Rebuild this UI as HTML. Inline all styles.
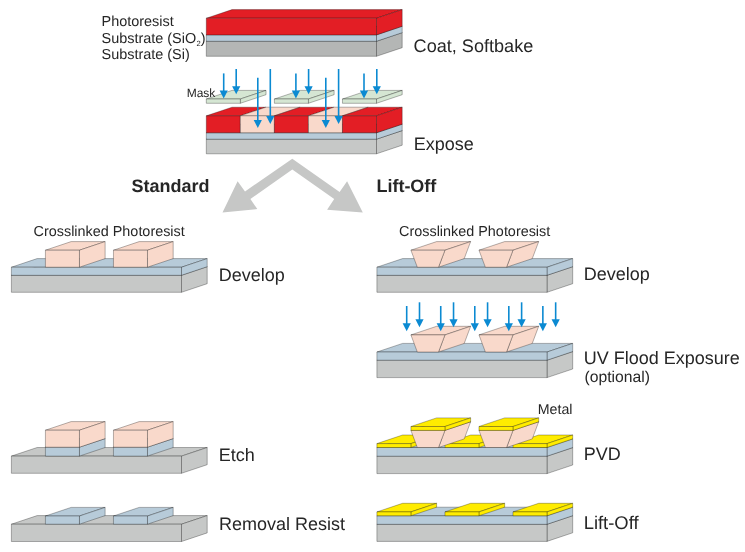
<!DOCTYPE html>
<html><head><meta charset="utf-8"><style>
html,body{margin:0;padding:0;background:#fff;}
svg{display:block;will-change:transform;}
text{font-family:"Liberation Sans", sans-serif;fill:#262626;text-rendering:geometricPrecision;}
</style></head><body>
<svg width="745" height="552" viewBox="0 0 745 552">
<rect width="745" height="552" fill="#fff"/>
<polygon points="206.3,41.25 232,32.65 402.2,32.65 376.5,41.25" fill="#B4B6B5" stroke="rgba(0,0,0,0.42)" stroke-width="0.7" stroke-linejoin="round" />
<polygon points="376.5,41.25 402.2,32.65 402.2,47.7 376.5,56.3" fill="#B4B6B5" stroke="rgba(0,0,0,0.42)" stroke-width="0.7" stroke-linejoin="round" />
<polygon points="206.3,41.25 376.5,41.25 376.5,56.3 206.3,56.3" fill="#B4B6B5" stroke="rgba(0,0,0,0.42)" stroke-width="0.7" stroke-linejoin="round" />
<polygon points="206.3,34.9 232,26.3 402.2,26.3 376.5,34.9" fill="#B7CBD9" stroke="rgba(0,0,0,0.42)" stroke-width="0.7" stroke-linejoin="round" />
<polygon points="376.5,34.9 402.2,26.3 402.2,32.65 376.5,41.25" fill="#B7CBD9" stroke="rgba(0,0,0,0.42)" stroke-width="0.7" stroke-linejoin="round" />
<polygon points="206.3,34.9 376.5,34.9 376.5,41.25 206.3,41.25" fill="#B7CBD9" stroke="rgba(0,0,0,0.42)" stroke-width="0.7" stroke-linejoin="round" />
<polygon points="206.3,18.2 232,9.6 402.2,9.6 376.5,18.2" fill="#E31E25" stroke="rgba(0,0,0,0.42)" stroke-width="0.7" stroke-linejoin="round" />
<polygon points="376.5,18.2 402.2,9.6 402.2,26.3 376.5,34.9" fill="#E31E25" stroke="rgba(0,0,0,0.42)" stroke-width="0.7" stroke-linejoin="round" />
<polygon points="206.3,18.2 376.5,18.2 376.5,34.9 206.3,34.9" fill="#E31E25" stroke="rgba(0,0,0,0.42)" stroke-width="0.7" stroke-linejoin="round" />
<polygon points="206.3,139.2 232,130.6 402.2,130.6 376.5,139.2" fill="#C6C8C7" stroke="rgba(0,0,0,0.42)" stroke-width="0.7" stroke-linejoin="round" />
<polygon points="376.5,139.2 402.2,130.6 402.2,145.2 376.5,153.8" fill="#C6C8C7" stroke="rgba(0,0,0,0.42)" stroke-width="0.7" stroke-linejoin="round" />
<polygon points="206.3,139.2 376.5,139.2 376.5,153.8 206.3,153.8" fill="#C6C8C7" stroke="rgba(0,0,0,0.42)" stroke-width="0.7" stroke-linejoin="round" />
<polygon points="206.3,132.8 232,124.2 402.2,124.2 376.5,132.8" fill="#B7CBD9" stroke="rgba(0,0,0,0.42)" stroke-width="0.7" stroke-linejoin="round" />
<polygon points="376.5,132.8 402.2,124.2 402.2,130.6 376.5,139.2" fill="#B7CBD9" stroke="rgba(0,0,0,0.42)" stroke-width="0.7" stroke-linejoin="round" />
<polygon points="206.3,132.8 376.5,132.8 376.5,139.2 206.3,139.2" fill="#B7CBD9" stroke="rgba(0,0,0,0.42)" stroke-width="0.7" stroke-linejoin="round" />
<polygon points="206.3,115.8 232,107.2 266.04,107.2 240.34,115.8" fill="#E31E25" stroke="rgba(0,0,0,0.42)" stroke-width="0.7" stroke-linejoin="round" />
<polygon points="206.3,115.8 240.34,115.8 240.34,132.8 206.3,132.8" fill="#E31E25" stroke="rgba(0,0,0,0.42)" stroke-width="0.7" stroke-linejoin="round" />
<polygon points="240.34,115.8 266.04,107.2 300.08,107.2 274.38,115.8" fill="#F9D9CB" stroke="rgba(0,0,0,0.42)" stroke-width="0.7" stroke-linejoin="round" />
<polygon points="240.34,115.8 274.38,115.8 274.38,132.8 240.34,132.8" fill="#F9D9CB" stroke="rgba(0,0,0,0.42)" stroke-width="0.7" stroke-linejoin="round" />
<polygon points="274.38,115.8 300.08,107.2 334.12,107.2 308.42,115.8" fill="#E31E25" stroke="rgba(0,0,0,0.42)" stroke-width="0.7" stroke-linejoin="round" />
<polygon points="274.38,115.8 308.42,115.8 308.42,132.8 274.38,132.8" fill="#E31E25" stroke="rgba(0,0,0,0.42)" stroke-width="0.7" stroke-linejoin="round" />
<polygon points="308.42,115.8 334.12,107.2 368.16,107.2 342.46,115.8" fill="#F9D9CB" stroke="rgba(0,0,0,0.42)" stroke-width="0.7" stroke-linejoin="round" />
<polygon points="308.42,115.8 342.46,115.8 342.46,132.8 308.42,132.8" fill="#F9D9CB" stroke="rgba(0,0,0,0.42)" stroke-width="0.7" stroke-linejoin="round" />
<polygon points="342.46,115.8 368.16,107.2 402.2,107.2 376.5,115.8" fill="#E31E25" stroke="rgba(0,0,0,0.42)" stroke-width="0.7" stroke-linejoin="round" />
<polygon points="376.5,115.8 402.2,107.2 402.2,124.2 376.5,132.8" fill="#E31E25" stroke="rgba(0,0,0,0.42)" stroke-width="0.7" stroke-linejoin="round" />
<polygon points="342.46,115.8 376.5,115.8 376.5,132.8 342.46,132.8" fill="#E31E25" stroke="rgba(0,0,0,0.42)" stroke-width="0.7" stroke-linejoin="round" />
<polygon points="206.3,99 232,90.4 266.04,90.4 240.34,99" fill="#D5E6D3" stroke="rgba(0,0,0,0.42)" stroke-width="0.7" stroke-linejoin="round" />
<polygon points="240.34,99 266.04,90.4 266.04,94.7 240.34,103.3" fill="#D5E6D3" stroke="rgba(0,0,0,0.42)" stroke-width="0.7" stroke-linejoin="round" />
<polygon points="206.3,99 240.34,99 240.34,103.3 206.3,103.3" fill="#D5E6D3" stroke="rgba(0,0,0,0.42)" stroke-width="0.7" stroke-linejoin="round" />
<polygon points="274.38,99 300.08,90.4 334.12,90.4 308.42,99" fill="#D5E6D3" stroke="rgba(0,0,0,0.42)" stroke-width="0.7" stroke-linejoin="round" />
<polygon points="308.42,99 334.12,90.4 334.12,94.7 308.42,103.3" fill="#D5E6D3" stroke="rgba(0,0,0,0.42)" stroke-width="0.7" stroke-linejoin="round" />
<polygon points="274.38,99 308.42,99 308.42,103.3 274.38,103.3" fill="#D5E6D3" stroke="rgba(0,0,0,0.42)" stroke-width="0.7" stroke-linejoin="round" />
<polygon points="342.46,99 368.16,90.4 402.2,90.4 376.5,99" fill="#D5E6D3" stroke="rgba(0,0,0,0.42)" stroke-width="0.7" stroke-linejoin="round" />
<polygon points="376.5,99 402.2,90.4 402.2,94.7 376.5,103.3" fill="#D5E6D3" stroke="rgba(0,0,0,0.42)" stroke-width="0.7" stroke-linejoin="round" />
<polygon points="342.46,99 376.5,99 376.5,103.3 342.46,103.3" fill="#D5E6D3" stroke="rgba(0,0,0,0.42)" stroke-width="0.7" stroke-linejoin="round" />
<line x1="223.7" y1="73.4" x2="223.7" y2="91.5" stroke="#0B8AD2" stroke-width="1.6"/>
<polygon points="219.6,90.5 227.8,90.5 223.7,98.5" fill="#0B8AD2"/>
<line x1="236.2" y1="69" x2="236.2" y2="87.2" stroke="#0B8AD2" stroke-width="1.6"/>
<polygon points="232.1,86.2 240.3,86.2 236.2,94.2" fill="#0B8AD2"/>
<line x1="257.8" y1="77.8" x2="257.8" y2="120.9" stroke="#0B8AD2" stroke-width="1.6"/>
<polygon points="253.7,119.9 261.9,119.9 257.8,127.9" fill="#0B8AD2"/>
<line x1="270.3" y1="69" x2="270.3" y2="116.9" stroke="#0B8AD2" stroke-width="1.6"/>
<polygon points="266.2,115.9 274.4,115.9 270.3,123.9" fill="#0B8AD2"/>
<line x1="295.9" y1="73.4" x2="295.9" y2="91.5" stroke="#0B8AD2" stroke-width="1.6"/>
<polygon points="291.8,90.5 300,90.5 295.9,98.5" fill="#0B8AD2"/>
<line x1="308.6" y1="69" x2="308.6" y2="87.2" stroke="#0B8AD2" stroke-width="1.6"/>
<polygon points="304.5,86.2 312.7,86.2 308.6,94.2" fill="#0B8AD2"/>
<line x1="325.8" y1="77.8" x2="325.8" y2="120.9" stroke="#0B8AD2" stroke-width="1.6"/>
<polygon points="321.7,119.9 329.9,119.9 325.8,127.9" fill="#0B8AD2"/>
<line x1="338.6" y1="69" x2="338.6" y2="116.9" stroke="#0B8AD2" stroke-width="1.6"/>
<polygon points="334.5,115.9 342.7,115.9 338.6,123.9" fill="#0B8AD2"/>
<line x1="364" y1="73.4" x2="364" y2="91.5" stroke="#0B8AD2" stroke-width="1.6"/>
<polygon points="359.9,90.5 368.1,90.5 364,98.5" fill="#0B8AD2"/>
<line x1="376.8" y1="69" x2="376.8" y2="87.2" stroke="#0B8AD2" stroke-width="1.6"/>
<polygon points="372.7,86.2 380.9,86.2 376.8,94.2" fill="#0B8AD2"/>
<polygon points="292.3,158.7 339.6,192 347.1,181.2 362.8,212.6 327.1,209.8 334.2,199 292.3,169.6 250.4,199 257.3,209.1 222.5,212.6 237.6,181.2 245,191.5" fill="#C6C7C6" stroke="none" stroke-width="0" stroke-linejoin="round" />
<polygon points="11.4,275.3 37.1,266.7 207.2,266.7 181.5,275.3" fill="#C6C8C7" stroke="rgba(0,0,0,0.42)" stroke-width="0.7" stroke-linejoin="round" />
<polygon points="181.5,275.3 207.2,266.7 207.2,283.7 181.5,292.3" fill="#C6C8C7" stroke="rgba(0,0,0,0.42)" stroke-width="0.7" stroke-linejoin="round" />
<polygon points="11.4,275.3 181.5,275.3 181.5,292.3 11.4,292.3" fill="#C6C8C7" stroke="rgba(0,0,0,0.42)" stroke-width="0.7" stroke-linejoin="round" />
<polygon points="11.4,267.2 37.1,258.6 207.2,258.6 181.5,267.2" fill="#B7CBD9" stroke="rgba(0,0,0,0.42)" stroke-width="0.7" stroke-linejoin="round" />
<polygon points="181.5,267.2 207.2,258.6 207.2,266.7 181.5,275.3" fill="#B7CBD9" stroke="rgba(0,0,0,0.42)" stroke-width="0.7" stroke-linejoin="round" />
<polygon points="11.4,267.2 181.5,267.2 181.5,275.3 11.4,275.3" fill="#B7CBD9" stroke="rgba(0,0,0,0.42)" stroke-width="0.7" stroke-linejoin="round" />
<polygon points="45.42,250.2 71.12,241.6 105.14,241.6 79.44,250.2" fill="#F9D9CB" stroke="rgba(0,0,0,0.42)" stroke-width="0.7" stroke-linejoin="round" />
<polygon points="79.44,250.2 105.14,241.6 105.14,258.6 79.44,267.2" fill="#F9D9CB" stroke="rgba(0,0,0,0.42)" stroke-width="0.7" stroke-linejoin="round" />
<polygon points="45.42,250.2 79.44,250.2 79.44,267.2 45.42,267.2" fill="#F9D9CB" stroke="rgba(0,0,0,0.42)" stroke-width="0.7" stroke-linejoin="round" />
<polygon points="113.46,250.2 139.16,241.6 173.18,241.6 147.48,250.2" fill="#F9D9CB" stroke="rgba(0,0,0,0.42)" stroke-width="0.7" stroke-linejoin="round" />
<polygon points="147.48,250.2 173.18,241.6 173.18,258.6 147.48,267.2" fill="#F9D9CB" stroke="rgba(0,0,0,0.42)" stroke-width="0.7" stroke-linejoin="round" />
<polygon points="113.46,250.2 147.48,250.2 147.48,267.2 113.46,267.2" fill="#F9D9CB" stroke="rgba(0,0,0,0.42)" stroke-width="0.7" stroke-linejoin="round" />
<polygon points="11.4,456.1 37.1,447.5 207.2,447.5 181.5,456.1" fill="#C6C8C7" stroke="rgba(0,0,0,0.42)" stroke-width="0.7" stroke-linejoin="round" />
<polygon points="181.5,456.1 207.2,447.5 207.2,464.7 181.5,473.3" fill="#C6C8C7" stroke="rgba(0,0,0,0.42)" stroke-width="0.7" stroke-linejoin="round" />
<polygon points="11.4,456.1 181.5,456.1 181.5,473.3 11.4,473.3" fill="#C6C8C7" stroke="rgba(0,0,0,0.42)" stroke-width="0.7" stroke-linejoin="round" />
<polygon points="45.42,447.2 71.12,438.6 105.14,438.6 79.44,447.2" fill="#B7CBD9" stroke="rgba(0,0,0,0.42)" stroke-width="0.7" stroke-linejoin="round" />
<polygon points="79.44,447.2 105.14,438.6 105.14,447.5 79.44,456.1" fill="#B7CBD9" stroke="rgba(0,0,0,0.42)" stroke-width="0.7" stroke-linejoin="round" />
<polygon points="45.42,447.2 79.44,447.2 79.44,456.1 45.42,456.1" fill="#B7CBD9" stroke="rgba(0,0,0,0.42)" stroke-width="0.7" stroke-linejoin="round" />
<polygon points="45.42,430.2 71.12,421.6 105.14,421.6 79.44,430.2" fill="#F9D9CB" stroke="rgba(0,0,0,0.42)" stroke-width="0.7" stroke-linejoin="round" />
<polygon points="79.44,430.2 105.14,421.6 105.14,438.6 79.44,447.2" fill="#F9D9CB" stroke="rgba(0,0,0,0.42)" stroke-width="0.7" stroke-linejoin="round" />
<polygon points="45.42,430.2 79.44,430.2 79.44,447.2 45.42,447.2" fill="#F9D9CB" stroke="rgba(0,0,0,0.42)" stroke-width="0.7" stroke-linejoin="round" />
<polygon points="113.46,447.2 139.16,438.6 173.18,438.6 147.48,447.2" fill="#B7CBD9" stroke="rgba(0,0,0,0.42)" stroke-width="0.7" stroke-linejoin="round" />
<polygon points="147.48,447.2 173.18,438.6 173.18,447.5 147.48,456.1" fill="#B7CBD9" stroke="rgba(0,0,0,0.42)" stroke-width="0.7" stroke-linejoin="round" />
<polygon points="113.46,447.2 147.48,447.2 147.48,456.1 113.46,456.1" fill="#B7CBD9" stroke="rgba(0,0,0,0.42)" stroke-width="0.7" stroke-linejoin="round" />
<polygon points="113.46,430.2 139.16,421.6 173.18,421.6 147.48,430.2" fill="#F9D9CB" stroke="rgba(0,0,0,0.42)" stroke-width="0.7" stroke-linejoin="round" />
<polygon points="147.48,430.2 173.18,421.6 173.18,438.6 147.48,447.2" fill="#F9D9CB" stroke="rgba(0,0,0,0.42)" stroke-width="0.7" stroke-linejoin="round" />
<polygon points="113.46,430.2 147.48,430.2 147.48,447.2 113.46,447.2" fill="#F9D9CB" stroke="rgba(0,0,0,0.42)" stroke-width="0.7" stroke-linejoin="round" />
<polygon points="11.4,524.2 37.1,515.6 207.2,515.6 181.5,524.2" fill="#C6C8C7" stroke="rgba(0,0,0,0.42)" stroke-width="0.7" stroke-linejoin="round" />
<polygon points="181.5,524.2 207.2,515.6 207.2,532.9 181.5,541.5" fill="#C6C8C7" stroke="rgba(0,0,0,0.42)" stroke-width="0.7" stroke-linejoin="round" />
<polygon points="11.4,524.2 181.5,524.2 181.5,541.5 11.4,541.5" fill="#C6C8C7" stroke="rgba(0,0,0,0.42)" stroke-width="0.7" stroke-linejoin="round" />
<polygon points="45.42,516 71.12,507.4 105.14,507.4 79.44,516" fill="#B7CBD9" stroke="rgba(0,0,0,0.42)" stroke-width="0.7" stroke-linejoin="round" />
<polygon points="79.44,516 105.14,507.4 105.14,515.6 79.44,524.2" fill="#B7CBD9" stroke="rgba(0,0,0,0.42)" stroke-width="0.7" stroke-linejoin="round" />
<polygon points="45.42,516 79.44,516 79.44,524.2 45.42,524.2" fill="#B7CBD9" stroke="rgba(0,0,0,0.42)" stroke-width="0.7" stroke-linejoin="round" />
<polygon points="113.46,516 139.16,507.4 173.18,507.4 147.48,516" fill="#B7CBD9" stroke="rgba(0,0,0,0.42)" stroke-width="0.7" stroke-linejoin="round" />
<polygon points="147.48,516 173.18,507.4 173.18,515.6 147.48,524.2" fill="#B7CBD9" stroke="rgba(0,0,0,0.42)" stroke-width="0.7" stroke-linejoin="round" />
<polygon points="113.46,516 147.48,516 147.48,524.2 113.46,524.2" fill="#B7CBD9" stroke="rgba(0,0,0,0.42)" stroke-width="0.7" stroke-linejoin="round" />
<polygon points="376.9,275.3 402.6,266.7 572.7,266.7 547,275.3" fill="#C6C8C7" stroke="rgba(0,0,0,0.42)" stroke-width="0.7" stroke-linejoin="round" />
<polygon points="547,275.3 572.7,266.7 572.7,283.7 547,292.3" fill="#C6C8C7" stroke="rgba(0,0,0,0.42)" stroke-width="0.7" stroke-linejoin="round" />
<polygon points="376.9,275.3 547,275.3 547,292.3 376.9,292.3" fill="#C6C8C7" stroke="rgba(0,0,0,0.42)" stroke-width="0.7" stroke-linejoin="round" />
<polygon points="376.9,267.2 402.6,258.6 572.7,258.6 547,267.2" fill="#B7CBD9" stroke="rgba(0,0,0,0.42)" stroke-width="0.7" stroke-linejoin="round" />
<polygon points="547,267.2 572.7,258.6 572.7,266.7 547,275.3" fill="#B7CBD9" stroke="rgba(0,0,0,0.42)" stroke-width="0.7" stroke-linejoin="round" />
<polygon points="376.9,267.2 547,267.2 547,275.3 376.9,275.3" fill="#B7CBD9" stroke="rgba(0,0,0,0.42)" stroke-width="0.7" stroke-linejoin="round" />
<polygon points="410.92,250.2 436.62,241.6 470.64,241.6 444.94,250.2" fill="#F9D9CB" stroke="rgba(0,0,0,0.42)" stroke-width="0.7" stroke-linejoin="round" />
<polygon points="444.94,250.2 470.64,241.6 464.24,258.6 438.54,267.2" fill="#F9D9CB" stroke="rgba(0,0,0,0.42)" stroke-width="0.7" stroke-linejoin="round" />
<polygon points="410.92,250.2 444.94,250.2 438.54,267.2 417.32,267.2" fill="#F9D9CB" stroke="rgba(0,0,0,0.42)" stroke-width="0.7" stroke-linejoin="round" />
<polygon points="478.96,250.2 504.66,241.6 538.68,241.6 512.98,250.2" fill="#F9D9CB" stroke="rgba(0,0,0,0.42)" stroke-width="0.7" stroke-linejoin="round" />
<polygon points="512.98,250.2 538.68,241.6 532.28,258.6 506.58,267.2" fill="#F9D9CB" stroke="rgba(0,0,0,0.42)" stroke-width="0.7" stroke-linejoin="round" />
<polygon points="478.96,250.2 512.98,250.2 506.58,267.2 485.36,267.2" fill="#F9D9CB" stroke="rgba(0,0,0,0.42)" stroke-width="0.7" stroke-linejoin="round" />
<polygon points="376.9,360.2 402.6,351.6 572.7,351.6 547,360.2" fill="#C6C8C7" stroke="rgba(0,0,0,0.42)" stroke-width="0.7" stroke-linejoin="round" />
<polygon points="547,360.2 572.7,351.6 572.7,369 547,377.6" fill="#C6C8C7" stroke="rgba(0,0,0,0.42)" stroke-width="0.7" stroke-linejoin="round" />
<polygon points="376.9,360.2 547,360.2 547,377.6 376.9,377.6" fill="#C6C8C7" stroke="rgba(0,0,0,0.42)" stroke-width="0.7" stroke-linejoin="round" />
<polygon points="376.9,352 402.6,343.4 572.7,343.4 547,352" fill="#B7CBD9" stroke="rgba(0,0,0,0.42)" stroke-width="0.7" stroke-linejoin="round" />
<polygon points="547,352 572.7,343.4 572.7,351.6 547,360.2" fill="#B7CBD9" stroke="rgba(0,0,0,0.42)" stroke-width="0.7" stroke-linejoin="round" />
<polygon points="376.9,352 547,352 547,360.2 376.9,360.2" fill="#B7CBD9" stroke="rgba(0,0,0,0.42)" stroke-width="0.7" stroke-linejoin="round" />
<polygon points="410.92,334.9 436.62,326.3 470.64,326.3 444.94,334.9" fill="#F9D9CB" stroke="rgba(0,0,0,0.42)" stroke-width="0.7" stroke-linejoin="round" />
<polygon points="444.94,334.9 470.64,326.3 464.24,343.4 438.54,352" fill="#F9D9CB" stroke="rgba(0,0,0,0.42)" stroke-width="0.7" stroke-linejoin="round" />
<polygon points="410.92,334.9 444.94,334.9 438.54,352 417.32,352" fill="#F9D9CB" stroke="rgba(0,0,0,0.42)" stroke-width="0.7" stroke-linejoin="round" />
<polygon points="478.96,334.9 504.66,326.3 538.68,326.3 512.98,334.9" fill="#F9D9CB" stroke="rgba(0,0,0,0.42)" stroke-width="0.7" stroke-linejoin="round" />
<polygon points="512.98,334.9 538.68,326.3 532.28,343.4 506.58,352" fill="#F9D9CB" stroke="rgba(0,0,0,0.42)" stroke-width="0.7" stroke-linejoin="round" />
<polygon points="478.96,334.9 512.98,334.9 506.58,352 485.36,352" fill="#F9D9CB" stroke="rgba(0,0,0,0.42)" stroke-width="0.7" stroke-linejoin="round" />
<line x1="406.7" y1="306" x2="406.7" y2="324.2" stroke="#0B8AD2" stroke-width="1.6"/>
<polygon points="402.6,323.2 410.8,323.2 406.7,331.2" fill="#0B8AD2"/>
<line x1="419.5" y1="302.3" x2="419.5" y2="320.3" stroke="#0B8AD2" stroke-width="1.6"/>
<polygon points="415.4,319.3 423.6,319.3 419.5,327.3" fill="#0B8AD2"/>
<line x1="440.74" y1="306" x2="440.74" y2="324.2" stroke="#0B8AD2" stroke-width="1.6"/>
<polygon points="436.64,323.2 444.84,323.2 440.74,331.2" fill="#0B8AD2"/>
<line x1="453.54" y1="302.3" x2="453.54" y2="320.3" stroke="#0B8AD2" stroke-width="1.6"/>
<polygon points="449.44,319.3 457.64,319.3 453.54,327.3" fill="#0B8AD2"/>
<line x1="474.78" y1="306" x2="474.78" y2="324.2" stroke="#0B8AD2" stroke-width="1.6"/>
<polygon points="470.68,323.2 478.88,323.2 474.78,331.2" fill="#0B8AD2"/>
<line x1="487.58" y1="302.3" x2="487.58" y2="320.3" stroke="#0B8AD2" stroke-width="1.6"/>
<polygon points="483.48,319.3 491.68,319.3 487.58,327.3" fill="#0B8AD2"/>
<line x1="508.82" y1="306" x2="508.82" y2="324.2" stroke="#0B8AD2" stroke-width="1.6"/>
<polygon points="504.72,323.2 512.92,323.2 508.82,331.2" fill="#0B8AD2"/>
<line x1="521.62" y1="302.3" x2="521.62" y2="320.3" stroke="#0B8AD2" stroke-width="1.6"/>
<polygon points="517.52,319.3 525.72,319.3 521.62,327.3" fill="#0B8AD2"/>
<line x1="542.86" y1="306" x2="542.86" y2="324.2" stroke="#0B8AD2" stroke-width="1.6"/>
<polygon points="538.76,323.2 546.96,323.2 542.86,331.2" fill="#0B8AD2"/>
<line x1="555.66" y1="302.3" x2="555.66" y2="320.3" stroke="#0B8AD2" stroke-width="1.6"/>
<polygon points="551.56,319.3 559.76,319.3 555.66,327.3" fill="#0B8AD2"/>
<polygon points="376.9,456.2 402.6,447.6 572.7,447.6 547,456.2" fill="#C6C8C7" stroke="rgba(0,0,0,0.42)" stroke-width="0.7" stroke-linejoin="round" />
<polygon points="547,456.2 572.7,447.6 572.7,465 547,473.6" fill="#C6C8C7" stroke="rgba(0,0,0,0.42)" stroke-width="0.7" stroke-linejoin="round" />
<polygon points="376.9,456.2 547,456.2 547,473.6 376.9,473.6" fill="#C6C8C7" stroke="rgba(0,0,0,0.42)" stroke-width="0.7" stroke-linejoin="round" />
<polygon points="376.9,447.5 402.6,438.9 572.7,438.9 547,447.5" fill="#B7CBD9" stroke="rgba(0,0,0,0.42)" stroke-width="0.7" stroke-linejoin="round" />
<polygon points="547,447.5 572.7,438.9 572.7,447.6 547,456.2" fill="#B7CBD9" stroke="rgba(0,0,0,0.42)" stroke-width="0.7" stroke-linejoin="round" />
<polygon points="376.9,447.5 547,447.5 547,456.2 376.9,456.2" fill="#B7CBD9" stroke="rgba(0,0,0,0.42)" stroke-width="0.7" stroke-linejoin="round" />
<polygon points="376.9,443.6 402.6,435 436.62,435 410.92,443.6" fill="#FFEC00" stroke="rgba(0,0,0,0.42)" stroke-width="0.7" stroke-linejoin="round" />
<polygon points="410.92,443.6 436.62,435 436.62,438.9 410.92,447.5" fill="#FFEC00" stroke="rgba(0,0,0,0.42)" stroke-width="0.7" stroke-linejoin="round" />
<polygon points="376.9,443.6 410.92,443.6 410.92,447.5 376.9,447.5" fill="#FFEC00" stroke="rgba(0,0,0,0.42)" stroke-width="0.7" stroke-linejoin="round" />
<polygon points="444.94,443.6 470.64,435 504.66,435 478.96,443.6" fill="#FFEC00" stroke="rgba(0,0,0,0.42)" stroke-width="0.7" stroke-linejoin="round" />
<polygon points="478.96,443.6 504.66,435 504.66,438.9 478.96,447.5" fill="#FFEC00" stroke="rgba(0,0,0,0.42)" stroke-width="0.7" stroke-linejoin="round" />
<polygon points="444.94,443.6 478.96,443.6 478.96,447.5 444.94,447.5" fill="#FFEC00" stroke="rgba(0,0,0,0.42)" stroke-width="0.7" stroke-linejoin="round" />
<polygon points="512.98,443.6 538.68,435 572.7,435 547,443.6" fill="#FFEC00" stroke="rgba(0,0,0,0.42)" stroke-width="0.7" stroke-linejoin="round" />
<polygon points="547,443.6 572.7,435 572.7,438.9 547,447.5" fill="#FFEC00" stroke="rgba(0,0,0,0.42)" stroke-width="0.7" stroke-linejoin="round" />
<polygon points="512.98,443.6 547,443.6 547,447.5 512.98,447.5" fill="#FFEC00" stroke="rgba(0,0,0,0.42)" stroke-width="0.7" stroke-linejoin="round" />
<polygon points="410.92,430.4 436.62,421.8 470.64,421.8 444.94,430.4" fill="#F9D9CB" stroke="rgba(0,0,0,0.42)" stroke-width="0.7" stroke-linejoin="round" />
<polygon points="444.94,430.4 470.64,421.8 464.24,438.9 438.54,447.5" fill="#F9D9CB" stroke="rgba(0,0,0,0.42)" stroke-width="0.7" stroke-linejoin="round" />
<polygon points="410.92,430.4 444.94,430.4 438.54,447.5 417.32,447.5" fill="#F9D9CB" stroke="rgba(0,0,0,0.42)" stroke-width="0.7" stroke-linejoin="round" />
<polygon points="410.92,426.5 436.62,417.9 470.64,417.9 444.94,426.5" fill="#FFEC00" stroke="rgba(0,0,0,0.42)" stroke-width="0.7" stroke-linejoin="round" />
<polygon points="444.94,426.5 470.64,417.9 470.64,421.8 444.94,430.4" fill="#FFEC00" stroke="rgba(0,0,0,0.42)" stroke-width="0.7" stroke-linejoin="round" />
<polygon points="410.92,426.5 444.94,426.5 444.94,430.4 410.92,430.4" fill="#FFEC00" stroke="rgba(0,0,0,0.42)" stroke-width="0.7" stroke-linejoin="round" />
<polygon points="478.96,430.4 504.66,421.8 538.68,421.8 512.98,430.4" fill="#F9D9CB" stroke="rgba(0,0,0,0.42)" stroke-width="0.7" stroke-linejoin="round" />
<polygon points="512.98,430.4 538.68,421.8 532.28,438.9 506.58,447.5" fill="#F9D9CB" stroke="rgba(0,0,0,0.42)" stroke-width="0.7" stroke-linejoin="round" />
<polygon points="478.96,430.4 512.98,430.4 506.58,447.5 485.36,447.5" fill="#F9D9CB" stroke="rgba(0,0,0,0.42)" stroke-width="0.7" stroke-linejoin="round" />
<polygon points="478.96,426.5 504.66,417.9 538.68,417.9 512.98,426.5" fill="#FFEC00" stroke="rgba(0,0,0,0.42)" stroke-width="0.7" stroke-linejoin="round" />
<polygon points="512.98,426.5 538.68,417.9 538.68,421.8 512.98,430.4" fill="#FFEC00" stroke="rgba(0,0,0,0.42)" stroke-width="0.7" stroke-linejoin="round" />
<polygon points="478.96,426.5 512.98,426.5 512.98,430.4 478.96,430.4" fill="#FFEC00" stroke="rgba(0,0,0,0.42)" stroke-width="0.7" stroke-linejoin="round" />
<polygon points="376.9,524.3 402.6,515.7 572.7,515.7 547,524.3" fill="#C6C8C7" stroke="rgba(0,0,0,0.42)" stroke-width="0.7" stroke-linejoin="round" />
<polygon points="547,524.3 572.7,515.7 572.7,532.8 547,541.4" fill="#C6C8C7" stroke="rgba(0,0,0,0.42)" stroke-width="0.7" stroke-linejoin="round" />
<polygon points="376.9,524.3 547,524.3 547,541.4 376.9,541.4" fill="#C6C8C7" stroke="rgba(0,0,0,0.42)" stroke-width="0.7" stroke-linejoin="round" />
<polygon points="376.9,515.8 402.6,507.2 572.7,507.2 547,515.8" fill="#B7CBD9" stroke="rgba(0,0,0,0.42)" stroke-width="0.7" stroke-linejoin="round" />
<polygon points="547,515.8 572.7,507.2 572.7,515.7 547,524.3" fill="#B7CBD9" stroke="rgba(0,0,0,0.42)" stroke-width="0.7" stroke-linejoin="round" />
<polygon points="376.9,515.8 547,515.8 547,524.3 376.9,524.3" fill="#B7CBD9" stroke="rgba(0,0,0,0.42)" stroke-width="0.7" stroke-linejoin="round" />
<polygon points="376.9,511.9 402.6,503.3 436.62,503.3 410.92,511.9" fill="#FFEC00" stroke="rgba(0,0,0,0.42)" stroke-width="0.7" stroke-linejoin="round" />
<polygon points="410.92,511.9 436.62,503.3 436.62,507.2 410.92,515.8" fill="#FFEC00" stroke="rgba(0,0,0,0.42)" stroke-width="0.7" stroke-linejoin="round" />
<polygon points="376.9,511.9 410.92,511.9 410.92,515.8 376.9,515.8" fill="#FFEC00" stroke="rgba(0,0,0,0.42)" stroke-width="0.7" stroke-linejoin="round" />
<polygon points="444.94,511.9 470.64,503.3 504.66,503.3 478.96,511.9" fill="#FFEC00" stroke="rgba(0,0,0,0.42)" stroke-width="0.7" stroke-linejoin="round" />
<polygon points="478.96,511.9 504.66,503.3 504.66,507.2 478.96,515.8" fill="#FFEC00" stroke="rgba(0,0,0,0.42)" stroke-width="0.7" stroke-linejoin="round" />
<polygon points="444.94,511.9 478.96,511.9 478.96,515.8 444.94,515.8" fill="#FFEC00" stroke="rgba(0,0,0,0.42)" stroke-width="0.7" stroke-linejoin="round" />
<polygon points="512.98,511.9 538.68,503.3 572.7,503.3 547,511.9" fill="#FFEC00" stroke="rgba(0,0,0,0.42)" stroke-width="0.7" stroke-linejoin="round" />
<polygon points="547,511.9 572.7,503.3 572.7,507.2 547,515.8" fill="#FFEC00" stroke="rgba(0,0,0,0.42)" stroke-width="0.7" stroke-linejoin="round" />
<polygon points="512.98,511.9 547,511.9 547,515.8 512.98,515.8" fill="#FFEC00" stroke="rgba(0,0,0,0.42)" stroke-width="0.7" stroke-linejoin="round" />
<text x="101.5" y="26" font-size="14.45" font-weight="normal" text-anchor="start" >Photoresist</text>
<text x="101.5" y="42.8" font-size="14.45" font-weight="normal" text-anchor="start" >Substrate (SiO<tspan font-size="7.6" dy="2.9" dx="0.3">2</tspan><tspan dy="-2.9" dx="0">)</tspan></text>
<text x="101.5" y="59" font-size="14.45" font-weight="normal" text-anchor="start" >Substrate (Si)</text>
<text x="413.6" y="51.7" font-size="18.1" font-weight="normal" text-anchor="start" >Coat, Softbake</text>
<text x="186.7" y="96.9" font-size="12" font-weight="normal" text-anchor="start" >Mask</text>
<text x="413.8" y="149.8" font-size="18" font-weight="normal" text-anchor="start" >Expose</text>
<text x="131.4" y="192.1" font-size="18" font-weight="bold" text-anchor="start" >Standard</text>
<text x="376.4" y="192" font-size="18" font-weight="bold" text-anchor="start" >Lift-Off</text>
<text x="33.6" y="236.4" font-size="14.4" font-weight="normal" text-anchor="start" >Crosslinked Photoresist</text>
<text x="399.1" y="236.4" font-size="14.4" font-weight="normal" text-anchor="start" >Crosslinked Photoresist</text>
<text x="218.8" y="281" font-size="18" font-weight="normal" text-anchor="start" >Develop</text>
<text x="583.8" y="280.3" font-size="18" font-weight="normal" text-anchor="start" >Develop</text>
<text x="583.8" y="364" font-size="18" font-weight="normal" text-anchor="start" >UV Flood Exposure</text>
<text x="584.5" y="382.2" font-size="15.7" font-weight="normal" text-anchor="start" >(optional)</text>
<text x="218.8" y="460.6" font-size="18" font-weight="normal" text-anchor="start" >Etch</text>
<text x="537.8" y="413.8" font-size="14.2" font-weight="normal" text-anchor="start" >Metal</text>
<text x="583.7" y="460.3" font-size="18" font-weight="normal" text-anchor="start" >PVD</text>
<text x="218.9" y="530" font-size="18" font-weight="normal" text-anchor="start" >Removal Resist</text>
<text x="583.7" y="528.9" font-size="18.4" font-weight="normal" text-anchor="start" >Lift-Off</text>
</svg>
</body></html>
